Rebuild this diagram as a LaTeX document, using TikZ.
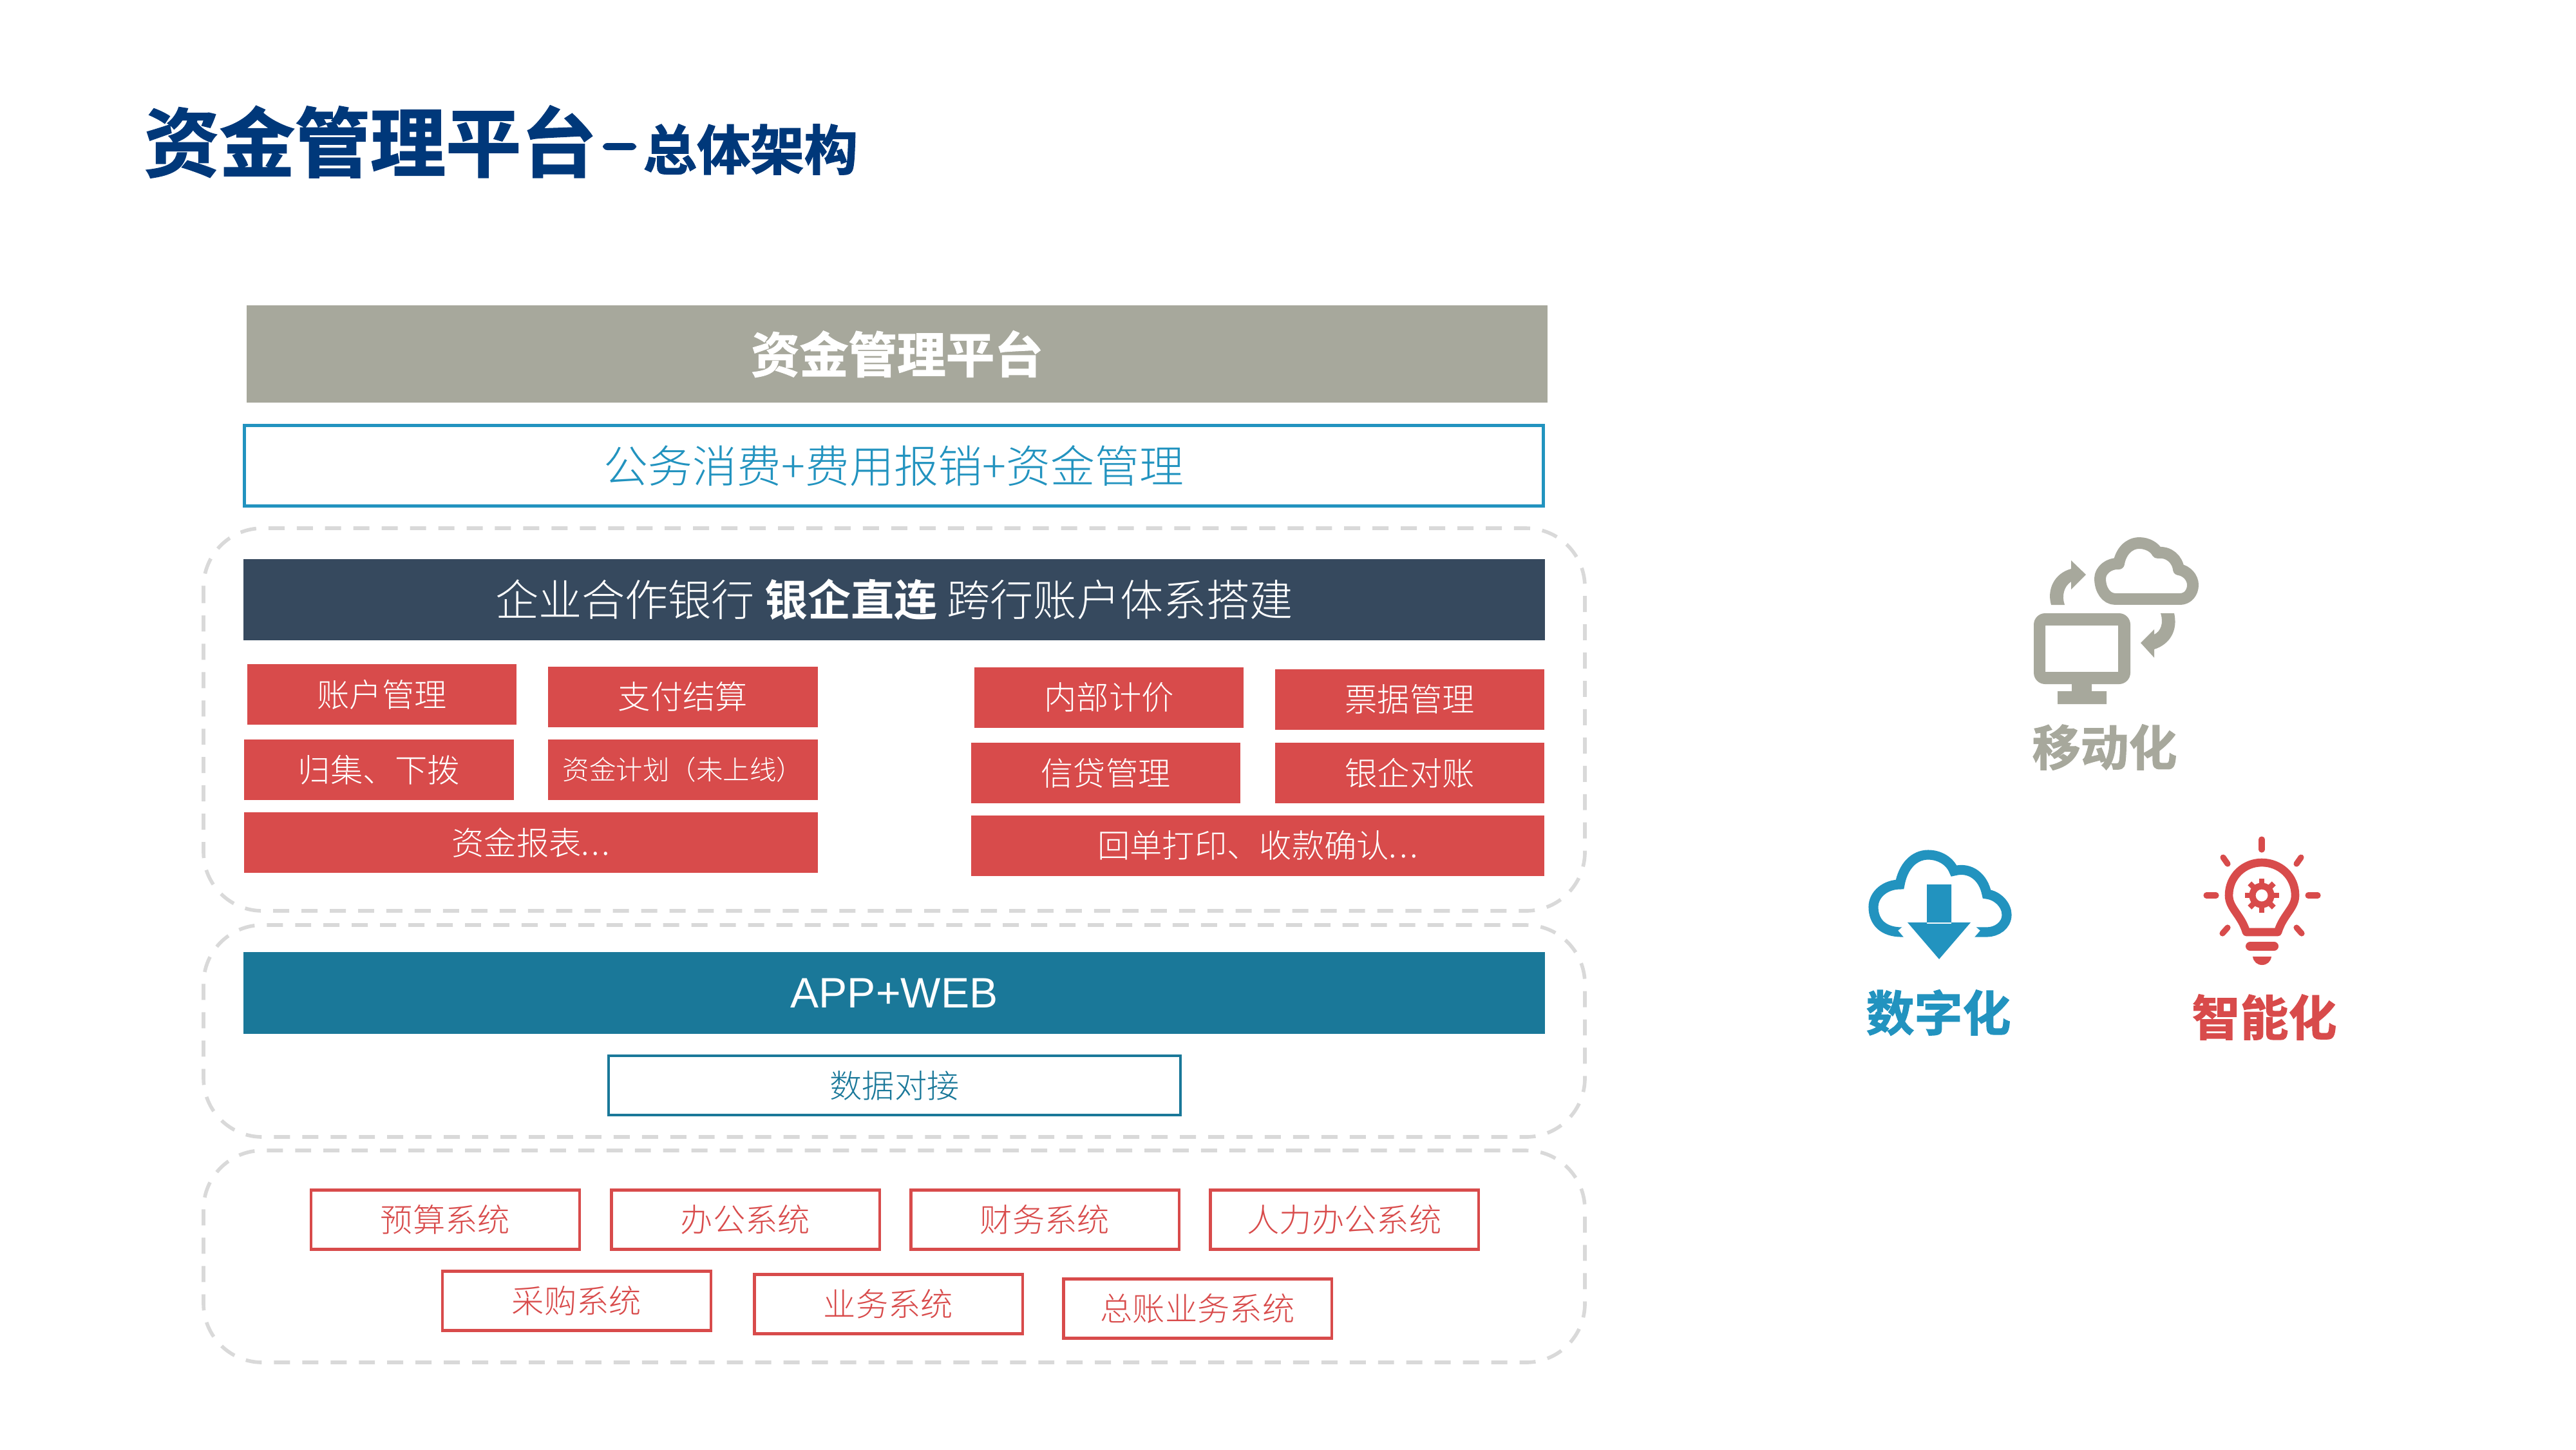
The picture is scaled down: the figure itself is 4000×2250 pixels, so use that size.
\documentclass[tikz,border=0pt]{standalone}
\usepackage{fontspec}
\setmainfont[UprightFont=* Light,BoldFont=* Bold]{Noto Sans CJK SC}
\newfontfamily\heavycjk[UprightFont=* Bold,FakeBold=1.6]{Noto Sans CJK SC}
\newfontfamily\latinfont{Liberation Sans}
\usepackage{xcolor}
\usetikzlibrary{arrows.meta,positioning,calc}
\definecolor{Navy}{HTML}{00387A}
\definecolor{Stone}{HTML}{A7A89C}
\definecolor{Sky}{HTML}{2293BF}
\definecolor{Slate}{HTML}{36495E}
\definecolor{Coral}{HTML}{D84B4B}
\definecolor{Teal}{HTML}{1A7899}
\definecolor{Dashgray}{HTML}{D9D9D9}
\newcommand{\fs}[1]{\fontsize{#1}{#1}\selectfont}
\newcommand{\dotsgap}{.\kern0.07em.\kern0.07em.}
\tikzset{
 bandbox/.style={minimum width=20.19cm,minimum height=1.26cm,inner sep=0pt,text=white},
 redbox/.style={fill=Coral,text=white,minimum width=4.18cm,minimum height=0.94cm,inner sep=0pt,font=\fs{14.3}},
 sysbox/.style={draw=Coral,line width=1.2pt,text=Coral,minimum width=4.16cm,minimum height=0.92cm,inner sep=0pt,font=\fs{14.3}},
 groupbox/.style={draw=Dashgray,line width=1.6pt,rounded corners=26pt,dash pattern=on 7.1pt off 5.4pt},
}
\begin{document}
\begin{tikzpicture}[x=0.01cm,y=-0.01cm]
\useasboundingbox (0,0) rectangle (4000,2250);
% title
\node[anchor=west,inner sep=0pt,text=Navy,font=\heavycjk\fs{33.3}] (title) at (223,220) {资金管理平台};
\fill[Navy,rounded corners=2pt] (936,222) rectangle (988,233);
\node[anchor=west,inner sep=0pt,text=Navy,font=\heavycjk\fs{23.7}] (subtitle) at (998,232) {总体架构};
% dashed groups
\draw[groupbox] (316,820) rectangle (2461,1414);
\draw[groupbox] (316,1436) rectangle (2461,1765);
\draw[groupbox] (316,1786) rectangle (2461,2115);
% top bands
\node[fill=Stone,minimum width=20.18cm,minimum height=1.5cm,inner sep=0pt,text=white,font=\heavycjk\fs{21.5}] (platform) at (1393,549.5) {资金管理平台};
\node[draw=Sky,line width=1.3pt,minimum width=20.16cm,minimum height=1.25cm,inner sep=0pt,text=Sky,font=\fs{19.6}] (expense) at (1388,723) {公务消费+费用报销+资金管理};
\node[bandbox,fill=Slate,font=\fs{19.1}] (bank) at (1388.5,931) {企业合作银行 \textbf{银企直连} 跨行账户体系搭建};
% red modules
\foreach \nm/\cx/\cy/\txt in {acct/593/1078/账户管理,pay/1060.5/1081.5/支付结算,pool/588.5/1195/归集、下拨,
 price/1722/1083/内部计价,bill/2189/1085.5/票据管理,loan/1717/1200/信贷管理,recon/2189/1200/银企对账} {
 \node[redbox] (\nm) at (\cx,\cy) {\txt};
}
\node[redbox,font=\fs{11.8}] (plan) at (1060.5,1195) {资金计划（未上线）};
\node[redbox,minimum width=8.91cm] (report) at (824.5,1308) {资金报表\dotsgap};
\node[redbox,minimum width=8.9cm] (receipt) at (1953,1312.5) {回单打印、收款确认\dotsgap};
% app band
\node[bandbox,fill=Teal,font=\latinfont\fs{18.8}] (app) at (1388.5,1541.5) {APP+WEB};
\node[draw=Teal,line width=1.2pt,minimum width=8.88cm,minimum height=0.92cm,inner sep=0pt,text=Teal,font=\fs{14.3}] (sync) at (1389,1685) {数据对接};
% source systems
\foreach \nm/\cx/\cy/\txt in {budget/691.5/1893.5/预算系统,office/1157.5/1893.5/办公系统,finance/1622.5/1893.5/财务系统,hr/2087.5/1893.5/人力办公系统,
 purchase/895.5/2019.5/采购系统,business/1379.5/2024.5/业务系统,ledger/1859.5/2031.5/总账业务系统} {
 \node[sysbox] (\nm) at (\cx,\cy) {\txt};
}
% mobile icon
\fill[Stone,rounded corners=5pt,even odd rule] (3158,952) rectangle (3308,1062) [sharp corners] (3176,971) rectangle (3289,1043);
\fill[Stone] (3217,1060) rectangle (3248,1075) (3195,1073) rectangle (3271,1093);
\draw[Stone,line width=5.1pt,line join=round] (3285,930) .. controls (3270,930) and (3261,915) .. (3261,898)
 .. controls (3261,885) and (3275,874) .. (3290,875) .. controls (3293,857) and (3305,843) .. (3322,843)
 .. controls (3335,843) and (3346,850) .. (3350,858) .. controls (3368,856) and (3381,868) .. (3383,884)
 .. controls (3396,886) and (3405,897) .. (3405,908) .. controls (3405,920) and (3397,930) .. (3385,930) -- cycle;
\fill[Stone] (3185,939) .. controls (3178,915) and (3190,890) .. (3216,883) -- (3216,870) -- (3239,892) -- (3216,915) -- (3216,903)
 .. controls (3205,910) and (3201,925) .. (3206,939) -- cycle;
\fill[Stone] (3376,952) .. controls (3382,978) and (3370,1000) .. (3345,1008) -- (3345,1021) -- (3324,998) -- (3345,977) -- (3345,985)
 .. controls (3355,980) and (3360,968) .. (3355,952) -- cycle;
\node[inner sep=0pt,text=Stone,font=\heavycjk\fs{21.3}] (mobile) at (3268,1160) {移动化};
% digital icon
\draw[Sky,line width=4.3pt] (2975,1447) -- (2953,1447) .. controls (2925,1447) and (2909,1432) .. (2909,1408)
 .. controls (2909,1388) and (2928,1373) .. (2950,1373) .. controls (2955,1345) and (2972,1327) .. (2994,1327)
 .. controls (3012,1327) and (3028,1337) .. (3034,1352) .. controls (3060,1345) and (3080,1362) .. (3085,1388)
 .. controls (3102,1390) and (3116,1405) .. (3116,1420) .. controls (3116,1437) and (3100,1447) .. (3085,1447) -- (3045,1447);
\draw[white,line width=11pt] (2962,1432) -- (3011,1489) -- (3060,1432);
\fill[Sky] (2992,1373) rectangle (3030,1434) (2962,1432) -- (3060,1432) -- (3011,1489) -- cycle;
\node[inner sep=0pt,text=Sky,font=\heavycjk\fs{21.3}] (digital) at (3010,1572) {数字化};
% smart icon
\foreach \ax/\ay/\bx/\by in {3512/1303/3512/1319,3452/1331/3459/1341,3573/1331/3566/1341,3426/1390/3441/1390,3584/1390/3599/1390,3459/1440/3451/1449,3566/1440/3574/1449} {
 \draw[Coral,line width=2.6pt,line cap=round] (\ax,\ay)--(\bx,\by);
}
\draw[Coral,line width=3.6pt,line join=round] (3488,1447) .. controls (3480,1420) and (3461,1410) .. (3461,1390)
 .. controls (3461,1360) and (3485,1339) .. (3512,1339) .. controls (3540,1339) and (3564,1360) .. (3564,1390)
 .. controls (3564,1410) and (3545,1420) .. (3537,1447) -- cycle;
\draw[Coral,line width=2.9pt] (3512,1390) circle (14.5);
\foreach \a in {0,45,...,315} {
 \draw[Coral,line width=2.4pt] ($(3512,1390)+(\a:17)$)--($(3512,1390)+(\a:26.5)$);
}
\draw[Coral,line width=4pt,line cap=round] (3494,1469)--(3531,1469);
\fill[Coral] (3498,1485) -- (3527,1485) .. controls (3526,1493) and (3520,1498) .. (3512.5,1498) .. controls (3505,1498) and (3499,1493) .. (3498,1485) -- cycle;
\node[inner sep=0pt,text=Coral,font=\heavycjk\fs{21.3}] (smart) at (3516,1579) {智能化};
\end{tikzpicture}
\end{document}
